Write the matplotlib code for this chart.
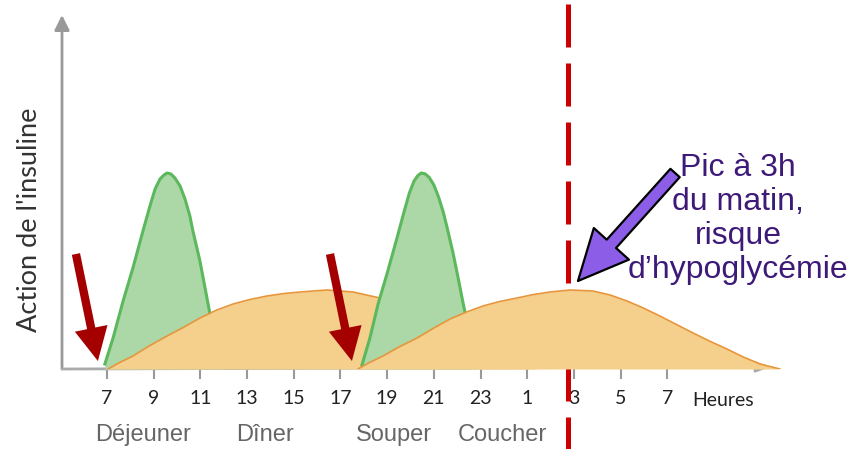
import matplotlib
matplotlib.use("Agg")
import matplotlib.pyplot as plt
from matplotlib.patches import FancyArrowPatch, ArrowStyle

# heures (7 = 7h du matin, 31 = 7h le lendemain) et action relative de l'insuline
rapide1_h = [6.91, 7.26, 7.69, 8.11, 8.54, 8.84, 9.06, 9.27, 9.44, 9.57, 9.74, 9.91, 10.13, 10.34,
             10.55, 10.68, 10.98, 11.20, 11.41, 11.93]
rapide1_v = [0.25, 1.55, 3.4, 5.05, 6.9, 8.15, 9.0, 9.5, 9.7, 9.8, 9.75, 9.55, 9.15, 8.5,
             7.65, 6.9, 5.4, 4.05, 2.75, 0.0]

rapide2_h = [17.92, 18.26, 18.61, 18.99, 19.42, 19.72, 19.95, 20.15, 20.32, 20.46, 20.62, 20.80,
             21.0, 21.2, 21.4, 21.56, 21.82, 22.03, 22.25, 22.55, 22.85]
rapide2_v = [0.2, 1.55, 3.25, 4.75, 6.55, 7.85, 8.8, 9.4, 9.68, 9.8, 9.76, 9.58,
             9.2, 8.6, 7.85, 7.1, 5.8, 4.6, 3.3, 1.65, 0.0]

lente1_h = [7.04, 7.5, 8.11, 8.8, 9.57, 10.3, 10.98, 11.7, 12.40, 13.1, 13.85, 14.55, 15.27, 16.42,
            17.54, 18.69, 18.87, 20.28, 21.7, 23.15, 24.57, 25.42]
lente1_v = [0.0, 0.3, 0.65, 1.15, 1.65, 2.1, 2.55, 2.95, 3.25, 3.47, 3.65, 3.77, 3.85, 3.95,
            3.85, 3.55, 3.4, 2.65, 1.8, 1.0, 0.25, 0.0]

lente2_h = [17.75, 18.2, 18.82, 19.5, 20.28, 21.0, 21.69, 22.4, 23.10, 23.8, 24.56, 25.25, 25.97,
            26.83, 27.81, 28.55, 29.27, 29.97, 30.68, 31.4, 32.10, 32.8, 33.55, 34.25, 34.97, 35.82]
lente2_v = [0.0, 0.3, 0.65, 1.1, 1.55, 2.05, 2.5, 2.85, 3.15, 3.37, 3.55, 3.72, 3.85,
            3.95, 3.9, 3.7, 3.4, 3.05, 2.65, 2.22, 1.8, 1.4, 1.0, 0.6, 0.25, 0.0]

ticks_h = [7, 9, 11, 13, 15, 17, 19, 21, 23, 25, 27, 29, 31]
ticks_lab = ["7", "9", "11", "13", "15", "17", "19", "21", "23", "1", "3", "5", "7"]

repas = ["Déjeuner", "Dîner", "Souper", "Coucher"]
repas_h = [8.54, 13.77, 19.29, 23.92]

injections_h = [6.61, 17.49]
pic_h, pic_v = 27.17, 4.4
ligne_h = 26.74

VERT_F, VERT_L = "#acd8a8", "#5cb85c"
ORANGE_F, ORANGE_L = "#f5cf8c", "#e8963c"

fig = plt.figure(figsize=(8.5, 4.49), dpi=100)
ax = fig.add_axes([62 / 850, 80 / 449, 738 / 850, 359 / 449])
ax.set_xlim(5.073, 36.68)
ax.set_ylim(0, 17.95)
for s in ax.spines.values():
    s.set_visible(False)
ax.set_yticks([])
ax.set_xticks(ticks_h, ticks_lab, fontfamily="Lato")
ax.tick_params(axis="x", direction="out", length=7, width=1.5, color="#999999",
               labelcolor="#222222", labelsize=14, pad=8)

# axes avec flèches
ax.annotate("", xy=(5.073, 17.7), xytext=(5.073, 0), annotation_clip=False,
            arrowprops=dict(arrowstyle="-|>,head_length=0.9,head_width=0.45",
                            color="#999999", lw=2, shrinkA=0, shrinkB=0), zorder=2)
ax.annotate("", xy=(35.4, 0.1), xytext=(5.073, 0), annotation_clip=False,
            arrowprops=dict(arrowstyle="-|>,head_length=0.8,head_width=0.3",
                            color="#aaaaaa", lw=2, shrinkA=0, shrinkB=0), zorder=2)

# ligne pointillée à 3h
ax.plot([ligne_h, ligne_h], [18.25, -4.1], color="#cc0000", lw=3.6,
        dashes=(8.6, 3.2), dash_capstyle="butt", clip_on=False, zorder=3)

# courbes: rapide 1, lente 1, rapide 2, lente 2
z = 4
for hh, vv, fc, lc, lw in [(rapide1_h, rapide1_v, VERT_F, VERT_L, 2.2),
                           (lente1_h, lente1_v, ORANGE_F, ORANGE_L, 1.2),
                           (rapide2_h, rapide2_v, VERT_F, VERT_L, 2.2),
                           (lente2_h, lente2_v, ORANGE_F, ORANGE_L, 1.2)]:
    ax.fill_between(hh, 0, vv, color=fc, lw=0, zorder=z)
    ax.plot(hh, vv, color=lc, lw=lw, zorder=z + 0.1, solid_joinstyle="round")
    z += 1

# flèches rouges des injections
for h in injections_h:
    a = FancyArrowPatch((h - 0.94, 5.75), (h, 0.4),
                        arrowstyle=ArrowStyle.Simple(head_length=24, head_width=24, tail_width=6),
                        mutation_scale=1, shrinkA=0, shrinkB=0, fc="#a50000", ec="none", zorder=10)
    ax.add_patch(a)

# flèche violette
fp = FancyArrowPatch((31.33, 9.8), (pic_h, pic_v),
                     arrowstyle=ArrowStyle.Simple(head_length=36, head_width=34, tail_width=9),
                     mutation_scale=1, shrinkA=0, shrinkB=0, fc="#8c5ee8", ec="black", lw=1.6, zorder=11)
ax.add_patch(fp)

ax.text(34.02, 7.5, "Pic à 3h\ndu matin,\nrisque\nd’hypoglycémie", ha="center", va="center",
        multialignment="center", fontsize=23, fontfamily="Liberation Sans", color="#3e1a78",
        linespacing=1.18, zorder=12)

ax.text(33.38, -1.6, "Heures", ha="center", va="center", fontsize=14, fontfamily="Lato",
        color="#222222", clip_on=False)

for nom, h in zip(repas, repas_h):
    ax.text(h, -3.3, nom, ha="center", va="center", fontsize=17, fontfamily="Liberation Sans",
            color="#666666", clip_on=False)

fig.text(30 / 850, 1 - 220 / 449, "Action de l'insuline", rotation=90, ha="center", va="center",
         fontsize=19.5, fontfamily="Lato", color="#333333")

fig.savefig("out.png", dpi=100)
